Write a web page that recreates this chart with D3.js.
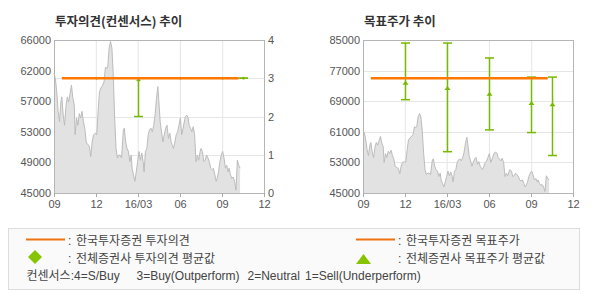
<!DOCTYPE html>
<html>
<head>
<meta charset="utf-8">
<script src="https://cdn.jsdelivr.net/npm/d3@7"></script>
<style>
  body { margin: 0; background: #fff; }
  svg { display: block; }
</style>
</head>
<body>
<div id="chart"></div>
<script>
// 주가
const priceDates = [
  "2015-09-01","2015-09-04","2015-09-07","2015-09-10","2015-09-13","2015-09-16","2015-09-18","2015-09-21",
  "2015-09-24","2015-09-27","2015-09-30","2015-10-03","2015-10-06","2015-10-09","2015-10-12","2015-10-15",
  "2015-10-17","2015-10-20","2015-10-23","2015-10-26","2015-10-29","2015-11-01","2015-11-04","2015-11-07",
  "2015-11-10","2015-11-12","2015-11-17","2015-11-20","2015-11-23","2015-11-26","2015-11-30","2015-12-03",
  "2015-12-06","2015-12-09","2015-12-12","2015-12-16","2015-12-19","2015-12-22","2015-12-25","2015-12-27",
  "2015-12-30","2016-01-02","2016-01-05","2016-01-08","2016-01-11","2016-01-14","2016-01-17","2016-01-20",
  "2016-01-23","2016-01-26","2016-01-30","2016-02-01","2016-02-04","2016-02-07","2016-02-10","2016-02-13",
  "2016-02-16","2016-02-18","2016-02-21","2016-02-24","2016-02-27","2016-03-01","2016-03-04","2016-03-07",
  "2016-03-10","2016-03-13","2016-03-15","2016-03-18","2016-03-21","2016-03-24","2016-03-27","2016-03-30",
  "2016-04-02","2016-04-05","2016-04-08","2016-04-11","2016-04-14","2016-04-16","2016-04-19","2016-04-22",
  "2016-04-25","2016-04-28","2016-05-01","2016-05-04","2016-05-07","2016-05-10","2016-05-13","2016-05-15",
  "2016-05-18","2016-05-21","2016-05-24","2016-05-27","2016-05-30","2016-06-02","2016-06-05","2016-06-08",
  "2016-06-10","2016-06-13","2016-06-16","2016-06-19","2016-06-21","2016-06-24","2016-06-27","2016-06-30",
  "2016-07-03","2016-07-06","2016-07-09","2016-07-12","2016-07-15","2016-07-17","2016-07-20","2016-07-23",
  "2016-07-26","2016-07-29","2016-08-01","2016-08-04","2016-08-07","2016-08-10","2016-08-13","2016-08-16",
  "2016-08-19","2016-08-21","2016-08-24","2016-08-27","2016-08-30","2016-09-02","2016-09-05","2016-09-08",
  "2016-09-11","2016-09-14","2016-09-16","2016-09-19","2016-09-22","2016-09-25","2016-09-28","2016-10-01",
  "2016-10-04","2016-10-07","2016-10-10"
];
const priceValues = [
  61400,60700,58900,56200,54800,57500,58200,55700,
  54300,56900,58200,57500,58700,59800,58000,57100,
  53000,55300,54300,55900,55300,56200,54800,53900,
  52000,51800,51400,50000,52000,53000,53200,53000,
  56200,58900,59400,59800,60300,62300,62100,62300,
  64900,65800,64900,61200,55300,51100,49800,50200,
  50200,49800,53700,53900,52000,51100,50700,49300,
  50200,48400,47500,46600,47900,49300,50700,49500,
  50500,49300,47900,50700,51100,53000,53700,53900,
  53400,54300,55700,58000,59600,57800,54800,53400,
  52000,53000,53900,54300,52500,53200,52000,51600,
  51100,52000,53000,53400,54300,55300,53000,53900,
  54600,55500,55700,55300,54300,53900,53400,54100,
  53000,49300,50200,49500,50700,51100,50700,49300,
  49500,50200,49800,49300,48400,48200,48400,47500,
  46600,47000,47900,49300,50200,50700,49800,48400,
  48800,47900,48400,47500,47000,47200,46600,45400,
  49500,48800,48400
];

// 전체증권사 컨센서스
const consDates = ["2015-12-01","2016-03-01","2016-06-01","2016-09-01","2016-10-17"];
const consOpinionAvg = [3, 2.95, 3, 3, 3];
const consOpinionMax = [3, 3, 3, 3, 3];
const consOpinionMin = [3, 2, 3, 3, 3];
const consTargetAvg = [73700, 72300, 70800, 68400, 68100];
const consTargetMax = [84200, 84200, 80300, 75300, 75300];
const consTargetMin = [69400, 55800, 61500, 60800, 54800];

// 한국투자증권
const kisDates = ["2015-09-18", "2016-10-07"];
const kisOpinion = [3, 3];
const kisTarget = [75000, 75000];

// axes
const xTickDates = ["2015-09-01","2015-12-01","2016-03-01","2016-06-01","2016-09-01","2016-12-01"];
const xTickLabels = ["09","12","16/03","06","09","12"];
const priceTickLabels = ["45000","49000","53000","57000","62000","66000"];
const opinionTicks = [0, 1, 2, 3, 4];
const targetTicks = [45000, 53000, 61000, 69000, 77000, 85000];

const parse = d3.timeParse("%Y-%m-%d");
const price = priceDates.map((d, i) => ({date: parse(d), value: priceValues[i]}));

const W = 590, H = 300;
const orange = "#ff7800", green = "#76b900";
const numFont = "'Liberation Sans', Arial, sans-serif";
const krFont = "'Liberation Sans', 'Noto Sans CJK KR', sans-serif";

const svg = d3.select("#chart").append("svg")
  .attr("width", W).attr("height", H)
  .attr("viewBox", [0, 0, W, H]);

function drawPanel(o) {
  const x = d3.scaleTime()
    .domain([parse(xTickDates[0]), parse(xTickDates[xTickDates.length - 1])])
    .range([o.left, o.right]);
  const yPrice = d3.scaleLinear().domain(o.priceDomain).range([o.bottom, o.top]);
  const ySeries = d3.scaleLinear().domain(o.seriesDomain).range([o.bottom, o.top]);

  const g = svg.append("g");

  g.append("text")
    .attr("x", o.left + 1).attr("y", 26)
    .attr("font-family", "'Noto Sans CJK KR', sans-serif")
    .attr("font-weight", "bold").attr("font-size", 12.5)
    .attr("fill", "#333")
    .text(o.title);

  // grid
  g.append("g").selectAll("line")
    .data(xTickDates.map(parse))
    .join("line")
    .attr("x1", d => x(d) + 0.5).attr("x2", d => x(d) + 0.5)
    .attr("y1", o.top).attr("y2", o.bottom)
    .attr("stroke", "#e6e6e6");
  g.append("g").selectAll("line")
    .data(o.gridTicks)
    .join("line")
    .attr("x1", o.left).attr("x2", o.right)
    .attr("y1", d => Math.round(ySeries(d)) + 0.5).attr("y2", d => Math.round(ySeries(d)) + 0.5)
    .attr("stroke", "#e6e6e6");

  // price area
  g.append("path")
    .datum(price)
    .attr("fill", "#e2e2e2")
    .attr("d", d3.area().x(d => x(d.date)).y0(o.bottom).y1(d => yPrice(d.value)));
  g.append("path")
    .datum(price)
    .attr("fill", "none")
    .attr("stroke", "#bcbcbc")
    .attr("stroke-width", 1)
    .attr("d", d3.line().x(d => x(d.date)).y(d => yPrice(d.value)));

  // frame
  g.append("rect")
    .attr("x", o.left + 0.5).attr("y", o.top + 0.5)
    .attr("width", o.right - o.left).attr("height", o.bottom - o.top)
    .attr("fill", "none").attr("stroke", "#b5b5b5");

  // x ticks + labels
  const xt = g.append("g").selectAll("g")
    .data(xTickDates.map((d, i) => ({date: parse(d), label: xTickLabels[i]})))
    .join("g")
    .attr("transform", d => `translate(${Math.round(x(d.date)) + 0.5},${o.bottom})`);
  xt.append("line").attr("y1", 0).attr("y2", 4).attr("stroke", "#aaa");
  xt.append("text")
    .attr("y", 15).attr("text-anchor", "middle")
    .attr("font-family", numFont).attr("font-size", 11).attr("fill", "#555")
    .text(d => d.label);

  // left labels
  g.append("g").selectAll("text")
    .data(o.leftLabels)
    .join("text")
    .attr("x", o.left - 3)
    .attr("y", d => d.y + 4)
    .attr("text-anchor", "end")
    .attr("font-family", numFont).attr("font-size", 11).attr("fill", "#555")
    .text(d => d.label);

  // right labels
  if (o.rightLabels) {
    g.append("g").selectAll("text")
      .data(o.rightLabels)
      .join("text")
      .attr("x", o.right + 4)
      .attr("y", d => ySeries(d) + 4)
      .attr("font-family", numFont).attr("font-size", 11).attr("fill", "#555")
      .text(d => d);
  }

  // consensus error bars
  const cons = consDates.map((d, i) => ({
    date: parse(d), avg: o.avg[i], max: o.max[i], min: o.min[i]
  }));
  const bar = g.append("g").selectAll("g")
    .data(cons)
    .join("g")
    .attr("transform", d => `translate(${Math.round(x(d.date)) + 0.5},0)`)
    .attr("stroke", green).attr("stroke-width", 1.5);
  bar.append("line").attr("y1", d => ySeries(d.max)).attr("y2", d => ySeries(d.min));
  bar.append("line").attr("x1", -4.5).attr("x2", 4.5)
    .attr("y1", d => ySeries(d.max)).attr("y2", d => ySeries(d.max));
  bar.append("line").attr("x1", -4.5).attr("x2", 4.5)
    .attr("y1", d => ySeries(d.min)).attr("y2", d => ySeries(d.min));
  bar.append("path")
    .attr("stroke", "none").attr("fill", green)
    .attr("d", d => {
      const y = ySeries(d.avg);
      return o.marker === "diamond"
        ? `M0,${y - 1.4}L2.5,${y}L0,${y + 1.6}L-2.5,${y}Z`
        : `M0,${y - 2.5}L3,${y + 1.5}L-3,${y + 1.5}Z`;
    });

  // 한국투자증권 line
  g.append("path")
    .datum(kisDates.map((d, i) => ({date: parse(d), value: o.kis[i]})))
    .attr("fill", "none").attr("stroke", orange).attr("stroke-width", 2.5)
    .attr("d", d3.line().x(d => x(d.date)).y(d => ySeries(d.value)));
}

// left: 투자의견
const leftPrice = d3.scaleLinear().domain([0, priceTickLabels.length - 1]).range([193, 40]);
drawPanel({
  title: "투자의견(컨센서스) 추이",
  left: 54, right: 264, top: 40, bottom: 193,
  priceDomain: [45000, 66000],
  seriesDomain: [0, 4],
  gridTicks: opinionTicks.slice(1, -1),
  leftLabels: priceTickLabels.map((l, i) => ({label: l, y: leftPrice(i)})),
  rightLabels: opinionTicks,
  avg: consOpinionAvg, max: consOpinionMax, min: consOpinionMin,
  kis: kisOpinion,
  marker: "diamond"
});

// right: 목표주가
const tScale = d3.scaleLinear().domain([45000, 85000]).range([193, 40]);
drawPanel({
  title: "목표주가 추이",
  left: 363, right: 573, top: 40, bottom: 193,
  priceDomain: [45000, 85000],
  seriesDomain: [45000, 85000],
  gridTicks: targetTicks.slice(1, -1),
  leftLabels: targetTicks.map(t => ({label: String(t), y: tScale(t)})),
  rightLabels: null,
  avg: consTargetAvg, max: consTargetMax, min: consTargetMin,
  kis: kisTarget,
  marker: "triangle"
});

// legend
const lg = svg.append("g").attr("font-family", krFont).attr("fill", "#444");
lg.append("rect")
  .attr("x", 8.5).attr("y", 228.5).attr("width", 571).attr("height", 61)
  .attr("fill", "#fafafa").attr("stroke", "#dddddd");

const legendRows = [
  {x: 26, y: 245, sym: "line", label: "한국투자증권 투자의견", lx: 68},
  {x: 26, y: 263, sym: "diamond", label: "전체증권사 투자의견 평균값", lx: 68},
  {x: 356, y: 245, sym: "line", label: "한국투자증권 목표주가", lx: 398},
  {x: 356, y: 263, sym: "triangle", label: "전체증권사 목표주가 평균값", lx: 398}
];
legendRows.forEach(r => {
  if (r.sym === "line") {
    lg.append("line").attr("x1", r.x).attr("x2", r.x + 39)
      .attr("y1", r.y - 5.5).attr("y2", r.y - 5.5)
      .attr("stroke", "#ee7210").attr("stroke-width", 2);
  } else if (r.sym === "diamond") {
    lg.append("path").attr("fill", "#86c300")
      .attr("d", `M${r.x + 9},${r.y - 13}L${r.x + 16},${r.y - 6}L${r.x + 9},${r.y + 1}L${r.x + 2},${r.y - 6}Z`);
  } else {
    lg.append("path").attr("fill", "#86c300")
      .attr("d", `M${r.x + 7.5},${r.y - 9}L${r.x + 15},${r.y + 1}L${r.x},${r.y + 1}Z`);
  }
  lg.append("text").attr("x", r.lx).attr("y", r.y).attr("font-size", 12).text(":");
  lg.append("text").attr("x", r.lx + 8).attr("y", r.y).attr("font-size", 12).text(r.label);
});

const consensusKey = [
  {x: 26.5, text: "컨센서스:4=S/Buy"},
  {x: 136.5, text: "3=Buy(Outperform)"},
  {x: 247.5, text: "2=Neutral"},
  {x: 305, text: "1=Sell(Underperform)"}
];
lg.append("g").selectAll("text")
  .data(consensusKey)
  .join("text")
  .attr("x", d => d.x).attr("y", 280)
  .attr("font-size", 12)
  .text(d => d.text);
</script>
</body>
</html>
